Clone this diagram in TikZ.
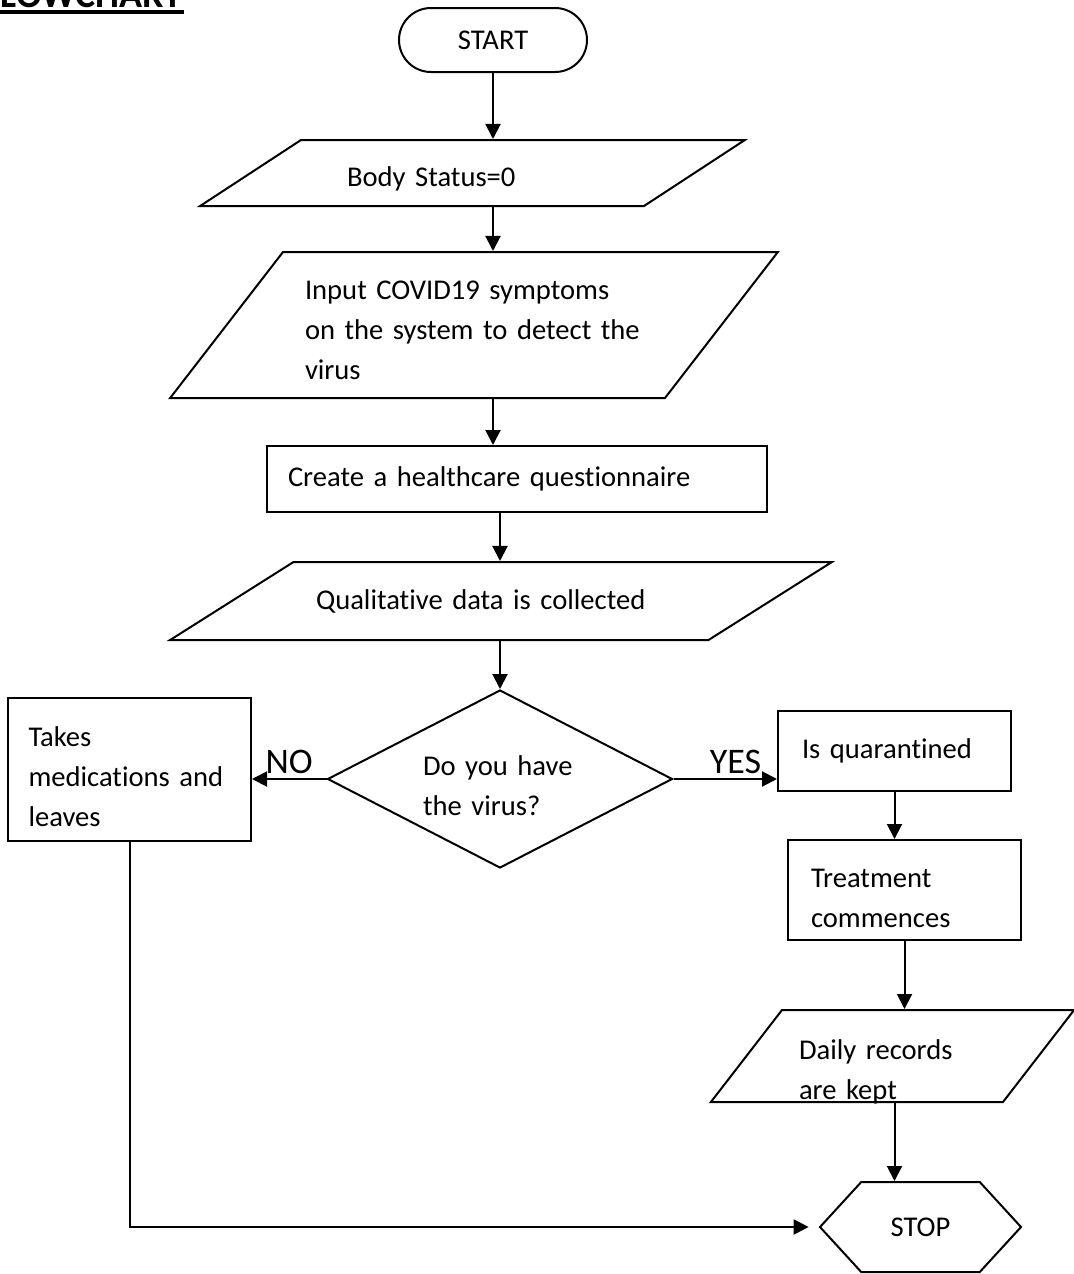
\documentclass[tikz,border=0pt]{standalone}
\usepackage{fontspec}
\setmainfont{Carlito}[Ligatures=NoCommon]
\usepackage{tikz}
\usetikzlibrary{shapes, shapes.geometric, shapes.misc, shapes.symbols, arrows.meta, calc, positioning}

\begin{document}
\begin{tikzpicture}[x=0.5pt, y=-0.5pt, >={Triangle[length=7.5pt, width=7.5pt]},
	font=\fontsize{14.3pt}{20pt}\selectfont, line width=1pt]
	\tikzstyle{terminal} = [draw, rounded rectangle, minimum width=96pt, minimum height=32pt, inner sep=1pt]
	\tikzstyle{process} = [draw, rectangle, inner sep=1pt, align=left]
	\tikzstyle{io} = [draw, trapezium, trapezium stretches body, inner ysep=0pt, align=left]
	\tikzstyle{decide} = [draw, diamond, aspect=1.94, inner sep=1pt, align=left]
	\tikzstyle{answer} = [above, inner sep=2pt, font=\fontsize{18pt}{20pt}\selectfont]

	\useasboundingbox (0,0) rectangle (1074,1274);

	% title, cut at the top of the page
	\node[anchor=base west, inner sep=0pt, font=\fontsize{19pt}{22pt}\selectfont\bfseries] (title) at (0,7) {LOWCHART};
	\draw[line width=2pt] ([yshift=-2.5pt]title.base west) -- ([yshift=-2.5pt]title.base east);

	% main column
	\node[terminal] (start) at (493,40) {START};
	\node[io, trapezium left angle=33.2, trapezium right angle=146.8, inner xsep=23pt, text width=125.5pt,
		text height=23pt, text depth=10pt] (body) at (472.5,173) {Body Status=0};
	\node[io, trapezium left angle=52.3, trapezium right angle=127.7, inner xsep=11pt, text width=169pt,
		text height=23.5pt, text depth=49.5pt] (input) at (474,325) {Input COVID19 symptoms\\on the system to detect the\\virus};
	\node[process, minimum width=250pt, minimum height=33pt, text width=229pt]
		(create) at (517,479) {Create a healthcare questionnaire};
	\node[io, trapezium left angle=32.3, trapezium right angle=147.7, inner xsep=11.25pt, text width=185pt,
		text height=23.5pt, text depth=15.5pt] (qual) at (501,601) {Qualitative data is collected};
	\node[decide, minimum width=172.5pt, minimum height=89pt, text width=77pt, text height=17pt]
		(decision) at (500,779) {Do you have\\the virus?};

	% NO branch
	\node[process, minimum width=121.5pt, minimum height=71.5pt, text width=101pt, text height=17pt]
		(takes) at (129.5,769.5) {Takes\\medications and\\leaves};

	% YES branch
	\node[process, minimum width=116.5pt, minimum height=40pt, text width=92.5pt]
		(quar) at (894.5,751) {Is quarantined};
	\node[process, minimum width=116.5pt, minimum height=50pt, text width=93.5pt, text height=18pt]
		(treat) at (904.5,890) {Treatment\\commences};
	\node[io, trapezium left angle=52.3, trapezium right angle=127.7, inner xsep=8.5pt, text width=93.5pt,
		text height=24.5pt, text depth=21.5pt] (daily) at (892.5,1056) {Daily records\\are kept};
	\node[draw, signal, signal to=west and east, signal pointer angle=95, minimum width=100.5pt, minimum height=45pt, inner sep=1pt]
		(stop) at (920.5,1227) {STOP};

	% connectors
	\draw[->] (start.south) -- (start.south |- body.north);
	\draw[->] (body.south -| start.south) -- (start.south |- input.north);
	\draw[->] (input.south -| start.south) -- (start.south |- create.north);
	\draw[->] (create.south -| decision.north) -- (decision.north |- qual.north);
	\draw[->] (qual.south -| decision.north) -- (decision.north);
	\draw[->] (decision.west) -- (decision.west -| takes.east) node[answer, pos=0.5] {NO};
	\draw[->] (decision.east) -- (decision.east -| quar.west) node[answer, pos=0.6] {YES};
	\draw[->] (quar.south) -- (quar.south |- treat.north);
	\draw[->] (treat.south) -- (treat.south |- daily.north);
	\draw[->] (daily.south -| quar.south) -- (quar.south |- stop.north);
	\draw[->, shorten >=5pt] (takes.south) |- (stop.west);
\end{tikzpicture}
\end{document}
